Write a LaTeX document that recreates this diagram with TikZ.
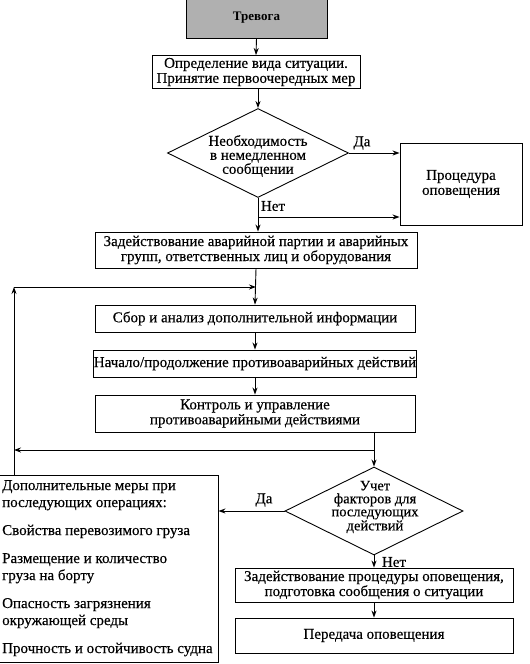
\documentclass[tikz,border=0pt]{standalone}
\usepackage{fontspec}
\setmainfont{Liberation Serif}[UprightFeatures={FakeBold=0.35}]
\usetikzlibrary{shapes.geometric,arrows.meta}
\begin{document}
\begin{tikzpicture}[x=1pt,y=-1pt,
  txt/.style={font=\fontsize{15}{15}\selectfont},
  box/.style={draw,line width=0.9pt,align=center,inner sep=0pt,txt},
  dia/.style={draw,diamond,inner sep=0pt,line width=0.9pt},
  arr/.style={line width=0.9pt,-{Stealth[length=7pt,width=5pt]}},
  ln/.style={line width=0.9pt},
  lbl/.style={txt,inner sep=0pt}]
\useasboundingbox (0,0) rectangle (530,664);
% nodes
\node[box,fill=gray!62,minimum width=141pt,minimum height=40pt,font=\fontsize{13}{13}\selectfont] (alarm) at (256.5,18) {\textbf{Тревога}};
\node[box,minimum width=208pt,minimum height=33pt] (b2) at (256,72) {Определение вида ситуации.\\Принятие первоочередных мер};
\node[dia,minimum width=181pt,minimum height=89pt] (d1) at (258,153) {};
\node[txt,align=center,inner sep=0pt,font=\fontsize{15}{14}\selectfont] (d1t) at (258,156) {Необходимость\\в немедленном\\сообщении};
\node[box,minimum width=122pt,minimum height=82pt] (proc) at (461,184) {Процедура\\оповещения};
\node[box,minimum width=322pt,minimum height=36pt] (b3) at (256,250) {Задействование аварийной партии и аварийных\\групп, ответственных лиц и оборудования};
\node[box,minimum width=320pt,minimum height=27pt] (b4) at (255,318.5) {Сбор и анализ дополнительной информации};
\node[box,minimum width=320pt,minimum height=27pt] (b5) at (255,363.5) {Начало/продолжение противоаварийных действий};
\node[box,minimum width=320pt,minimum height=37pt] (b6) at (255,413.5) {Контроль и управление\\противоаварийными действиями};
\node[dia,minimum width=178pt,minimum height=88pt] (d2) at (374,511) {};
\node[txt,align=center,inner sep=0pt,font=\fontsize{14.5}{13}\selectfont] (d2t) at (375,507) {Учет\\факторов для\\последующих\\действий};
\node[draw,line width=0.9pt,minimum width=221pt,minimum height=187pt,inner sep=0pt] (dop) at (107.5,568.5) {};
\node[anchor=north west,align=left,inner sep=0pt,font=\fontsize{15}{17}\selectfont] (doptext) at (2,480) {Дополнительные меры при\\последующих операциях:\\[11pt]Свойства перевозимого груза\\[11pt]Размещение и количество\\груза на борту\\[11pt]Опасность загрязнения\\окружающей среды\\[11pt]Прочность и остойчивость судна};
\node[box,minimum width=278pt,minimum height=34pt] (b7) at (374,585) {Задействование процедуры оповещения,\\подготовка сообщения о ситуации};
\node[box,minimum width=278pt,minimum height=35pt] (b8) at (374,635.5) {Передача оповещения};
% labels
\node[lbl] (da1) at (362,143) {Да};
\node[lbl] (net1) at (273,206) {Нет};
\node[lbl] (da2) at (264,500) {Да};
\node[lbl] (net2) at (394,562) {Нет};
% coordinates
\coordinate (c5) at (258,217);
\coordinate (c1) at (374,450);
\coordinate (c2) at (14,450);
\coordinate (c3) at (14,287);
\coordinate (c4) at (256,287);
% connectors
\draw[arr] (alarm.south) -- (b2.north);
\draw[arr] (b2.south -| d1.north) -- (d1.north);
\draw[arr] (d1.east) -- (proc.west |- d1.east);
\draw[arr] (d1.south) -- (b3.north -| d1.south);
\draw[arr] (c5) -- (c5 -| proc.west);
\draw[arr] (b3.south) -- (b4.north);
\draw[arr] (b4.south) -- (b5.north);
\draw[arr] (b5.south) -- (b6.north);
\draw[arr] (b6.south -| d2.north) -- (d2.north);
\draw[arr] (c1) -- (c2);
\draw[ln] (dop.north -| c2) -- (c2);
\draw[arr] (c2) -- (c3);
\draw[arr] (c3) -- (c4);
\draw[arr] (d2.west) -- (dop.east |- d2.west);
\draw[arr] (d2.south) -- (b7.north -| d2.south);
\draw[arr] (b7.south) -- (b8.north);
\end{tikzpicture}
\end{document}
